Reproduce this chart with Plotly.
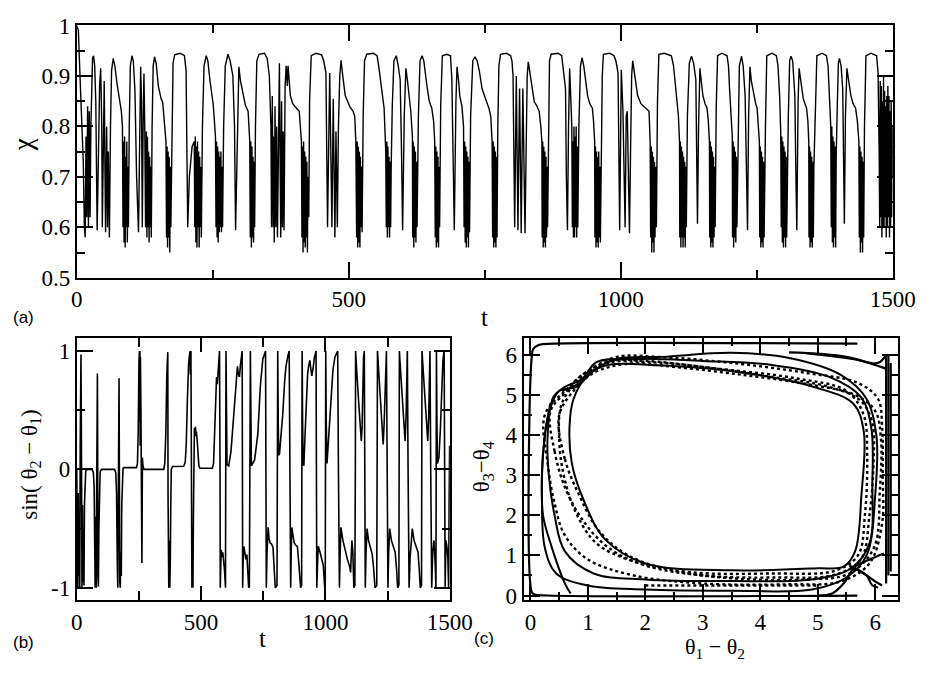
import plotly.graph_objects as go

# ---------------- data ----------------
# panel (a): chi(t)  (t, chi) pairs
chi_pts = [
(0,1.0),(3,0.99),(6,0.9),(9,0.8),(12,0.73),(14,0.6),(15.5,0.58),(17,0.78),(18.5,0.62),(20,0.84),(21.5,0.6),(23,0.83),(24.5,0.62),(26,0.8),(27,0.88),(29,0.935),(31,0.94),(33,0.92),(35,0.85),(37.5,0.594),(40,0.75),(42,0.88),(44,0.915),(46,0.8),(47,0.6),(49,0.85),(50.5,0.89),(52,0.7),(53,0.59),(55,0.8),(56.5,0.6),(58,0.75),(60,0.58),(62,0.8),(64,0.91),(67,0.935),(70,0.92),(74,0.885),(78,0.861),(82,0.83),(84,0.8),
(85,0.6),(86,0.77),(87,0.57),(88,0.78),(89,0.56),(90,0.74),(91,0.6),(92,0.77),(93,0.57),(94,0.72),(95,0.6),(96.5,0.8),(98.5,0.92),(101.5,0.94),(104,0.93),(107,0.87),(110,0.7),(113.5,0.59),(115.5,0.82),(117.5,0.918),(119,0.85),(120.5,0.6),(122,0.8),(123.5,0.905),(125,0.8),(126.5,0.6),
(128,0.79),(129,0.58),(130,0.78),(131,0.6),(132,0.75),(133,0.57),(134,0.74),(135,0.6),(136,0.72),(137,0.58),(138.5,0.8),(140.5,0.92),(143,0.938),(146,0.925),(150,0.88),(155,0.855),(158,0.848),(162,0.8),(164,0.77),
(165,0.58),(166,0.76),(167,0.56),(168,0.75),(169,0.58),(170,0.74),(171,0.55),(172,0.72),(173,0.6),(175,0.82),(177,0.925),(180,0.942),(190,0.945),(198,0.94),(201,0.91),(202.5,0.75),(204,0.6),(207,0.7),(212,0.76),(216,0.77),
(217,0.6),(218,0.78),(219,0.57),(220,0.76),(221,0.56),(222,0.77),(223,0.6),(224,0.75),(225,0.56),(226,0.74),(227,0.6),(228,0.72),(229,0.58),(231,0.8),(234,0.92),(238,0.94),(241,0.93),(245,0.89),(251,0.842),(255,0.78),
(256,0.6),(257,0.77),(258,0.58),(259,0.76),(260,0.57),(261,0.75),(262,0.59),(263,0.74),(264,0.6),(265,0.75),(266,0.59),(267,0.72),(268,0.6),(270,0.8),(273,0.92),(278,0.943),(282,0.93),(287,0.9),(290,0.8),(292,0.594),(295,0.8),(298,0.918),(301,0.89),(305,0.865),(310,0.842),(315,0.83),(318,0.77),
(319,0.58),(320,0.77),(321,0.56),(322,0.76),(323,0.58),(324,0.74),(325,0.57),(326,0.73),(327,0.6),(328.5,0.8),(331,0.93),(335,0.943),(345,0.945),(350,0.935),(354,0.9),(357,0.8),
(358,0.6),(359.5,0.86),(361,0.6),(362,0.78),(363,0.57),(364.5,0.84),(366,0.6),(367.5,0.8),(369,0.58),(371,0.9),(372.5,0.925),(374,0.7),(375,0.58),(376.5,0.85),(378,0.6),(379.5,0.79),(381,0.594),(383,0.88),(385,0.92),(387,0.88),(388.4,0.92),(392.6,0.861),(397,0.845),(401.5,0.839),(405,0.834),(409,0.83),(413,0.77),
(414,0.58),(415,0.76),(416,0.55),(417,0.77),(418,0.57),(419,0.75),(420,0.56),(421,0.74),(422,0.58),(423,0.73),(424,0.55),(425,0.7),(426.5,0.62),(428,0.85),(431,0.94),(440,0.945),(450,0.942),(454,0.93),(458,0.906),(461,0.6),(465,0.906),(469,0.6),(471.5,0.855),(474.5,0.58),(476.5,0.79),(479,0.6),(481,0.8),(483.5,0.9),(485.8,0.931),(489,0.9),(493.5,0.861),(502,0.839),(508,0.83),(511,0.82),(513,0.77),
(514.5,0.58),(515.5,0.77),(516.5,0.56),(517.5,0.76),(518.5,0.57),(519.5,0.75),(520.5,0.56),(521.5,0.74),(522.5,0.6),(523.5,0.72),(524.5,0.59),(526.5,0.82),(529,0.93),(533,0.943),(545,0.945),(552,0.94),(555,0.92),(558,0.893),(562,0.86),(565,0.836),(568,0.75),
(569,0.6),(570,0.77),(571,0.58),(572,0.76),(573,0.6),(574,0.74),(575,0.58),(576,0.73),(577,0.6),(578,0.72),(580,0.84),(583,0.93),(587.4,0.94),(591,0.92),(594.5,0.893),(597,0.75),(599,0.594),(602,0.82),(605,0.915),(608,0.89),(611,0.861),(614,0.83),(617,0.78),
(617.5,0.58),(618.5,0.77),(619.5,0.56),(620.5,0.76),(621.5,0.58),(622.5,0.75),(623.5,0.57),(624.5,0.73),(625.5,0.6),(628,0.82),(631,0.93),(634.8,0.94),(638,0.93),(643,0.886),(648,0.85),(652.6,0.836),(656,0.81),(658,0.77),
(659,0.58),(660,0.76),(661,0.56),(662,0.75),(663,0.57),(664,0.74),(665,0.56),(666,0.72),(667,0.6),(669,0.84),(672,0.94),(680,0.943),(687,0.94),(689.5,0.893),(692,0.75),(694,0.594),(697,0.85),(699,0.918),(702,0.89),(704,0.861),(708,0.84),(711,0.8),
(712,0.6),(713,0.77),(714,0.57),(715,0.76),(716,0.56),(717,0.75),(718,0.58),(719,0.74),(720,0.56),(721,0.73),(722,0.59),(724,0.82),(728,0.93),(732,0.938),(736,0.93),(740,0.91),(745,0.875),(749,0.86),(753,0.85),(757.7,0.836),(761,0.82),(763.5,0.77),
(764.5,0.58),(765.5,0.77),(766.5,0.56),(767.5,0.76),(768.5,0.57),(769.5,0.75),(770.5,0.56),(771.5,0.74),(772.5,0.58),(774,0.8),(776,0.92),(779,0.943),(790,0.945),(797.5,0.94),(800,0.93),(802,0.9),(805,0.6),(808,0.9),(811,0.594),(814,0.875),(817,0.588),(820,0.875),(822,0.7),(824,0.588),(826,0.75),(828,0.9),(830,0.928),(834,0.9),(841,0.849),(846,0.84),(850,0.83),(853,0.8),(855,0.77),
(855.5,0.58),(856.5,0.77),(857.5,0.56),(858.5,0.76),(859.5,0.57),(860.5,0.75),(861.5,0.56),(862.5,0.74),(863.5,0.58),(864.5,0.72),(865.5,0.6),(867,0.82),(869,0.93),(872,0.943),(885,0.945),(891.4,0.94),(895,0.91),(898.5,0.874),(900,0.7),(902,0.594),(904,0.8),(906,0.915),(908,0.86),(910,0.8),(911,0.6),
(912,0.77),(913,0.58),(914,0.8),(915,0.58),(916,0.78),(917,0.6),(918,0.8),(919,0.58),(920,0.76),(921,0.6),(923,0.8),(926,0.92),(928.8,0.936),(932,0.92),(935,0.89),(939,0.861),(943,0.845),(947.8,0.836),(950,0.81),(952,0.77),
(952.5,0.58),(953.5,0.76),(954.5,0.56),(955.5,0.75),(956.5,0.57),(957.5,0.74),(958.5,0.56),(959.5,0.75),(960.5,0.58),(961.5,0.72),(962.5,0.57),(964,0.75),(966,0.9),(968,0.943),(980,0.945),(987.5,0.94),(991,0.93),(995,0.906),(998,0.594),(1001,0.912),(1004,0.83),(1008,0.6),(1010,0.82),(1012,0.83),(1014,0.7),(1016,0.588),(1018,0.75),(1020,0.9),(1022,0.93),(1025,0.91),(1031,0.861),(1037,0.845),(1043,0.839),(1048,0.834),(1052,0.83),(1054,0.77),
(1055,0.58),(1056,0.76),(1057,0.55),(1058,0.75),(1059,0.57),(1060,0.74),(1061,0.55),(1062,0.73),(1063,0.58),(1064,0.72),(1065.5,0.6),(1067.5,0.85),(1070,0.943),(1080,0.945),(1093,0.94),(1097,0.92),(1102,0.855),(1106,0.82),(1108,0.77),
(1108.5,0.58),(1109.5,0.77),(1110.5,0.56),(1111.5,0.76),(1112.5,0.58),(1113.5,0.75),(1114.5,0.56),(1115.5,0.74),(1116.5,0.58),(1117.5,0.73),(1118.5,0.56),(1119.5,0.72),(1120.5,0.6),(1122.5,0.82),(1126,0.925),(1130,0.939),(1134,0.925),(1138,0.893),(1140,0.75),(1141,0.607),(1143,0.8),(1145.5,0.915),(1148,0.89),(1151,0.861),(1155,0.845),(1158.6,0.836),(1161,0.81),(1163,0.77),
(1163.5,0.58),(1164.5,0.77),(1165.5,0.56),(1166.5,0.76),(1167.5,0.57),(1168.5,0.75),(1169.5,0.56),(1170.5,0.74),(1171.5,0.58),(1172.5,0.72),(1173.5,0.6),(1175.5,0.84),(1178,0.94),(1186,0.945),(1195.4,0.94),(1198,0.92),(1200,0.874),(1203,0.8),(1205,0.78),
(1205.5,0.58),(1206.5,0.77),(1207.5,0.56),(1208.5,0.76),(1209.5,0.58),(1210.5,0.75),(1211.5,0.57),(1212.5,0.74),(1213.5,0.6),(1215.5,0.8),(1218,0.92),(1222,0.939),(1225,0.92),(1228.6,0.861),(1231,0.72),(1233,0.594),(1235,0.82),(1237.5,0.918),(1240,0.89),(1244.7,0.861),(1248,0.845),(1250.6,0.836),(1253,0.8),(1254.8,0.77),
(1255.5,0.58),(1256.5,0.76),(1257.5,0.56),(1258.5,0.75),(1259.5,0.57),(1260.5,0.74),(1261.5,0.56),(1262.5,0.73),(1263.5,0.58),(1264.5,0.7),(1266,0.8),(1268.4,0.94),(1278,0.945),(1286,0.94),(1289,0.92),(1292,0.861),(1294,0.79),
(1295,0.6),(1296,0.78),(1297,0.57),(1298,0.77),(1299,0.56),(1300,0.76),(1301,0.58),(1302,0.75),(1303,0.56),(1304,0.74),(1305,0.58),(1306,0.72),(1308,0.82),(1310.5,0.93),(1313,0.939),(1316,0.93),(1320,0.861),(1322,0.7),(1323.6,0.594),(1326,0.85),(1327.8,0.915),(1331,0.89),(1335.5,0.855),(1341.5,0.836),(1344,0.81),(1345.6,0.77),
(1346,0.58),(1347,0.76),(1348,0.56),(1349,0.75),(1350,0.57),(1351,0.74),(1352,0.56),(1353,0.73),(1354,0.58),(1355,0.72),(1357,0.8),(1360.5,0.94),(1370,0.945),(1378,0.94),(1381,0.92),(1384,0.861),(1386,0.8),
(1387,0.6),(1388,0.8),(1389,0.57),(1390,0.78),(1391,0.56),(1392,0.77),(1393,0.58),(1394,0.76),(1395,0.56),(1396,0.74),(1398,0.84),(1400,0.925),(1402,0.935),(1405,0.92),(1408,0.874),(1409.5,0.75),(1411,0.607),(1413,0.82),(1415.7,0.915),(1419,0.89),(1423,0.861),(1427,0.845),(1431.7,0.836),(1435,0.81),(1437.7,0.77),
(1438.5,0.58),(1439.5,0.76),(1440.5,0.55),(1441.5,0.75),(1442.5,0.57),(1443.5,0.74),(1444.5,0.55),(1445.5,0.73),(1446.5,0.58),(1448,0.8),(1450.7,0.94),(1460,0.945),(1470.3,0.94),(1473,0.906),(1475,0.75),
(1476,0.6),(1477,0.89),(1478,0.62),(1479,0.88),(1480,0.58),(1481,0.85),(1482,0.6),(1483,0.9),(1484,0.6),(1485,0.87),(1486,0.62),(1487,0.84),(1488,0.58),(1489,0.86),(1490,0.6),(1491,0.88),(1492,0.62),(1493,0.86),(1494,0.58),(1495,0.83),(1496,0.6),(1497,0.85),(1498,0.62),(1499,0.8),(1500,0.7)
]
chi_tickvals = [0.5, 0.6, 0.7, 0.8, 0.9, 1.0]
chi_ticktext = ["0.5", "0.6", "0.7", "0.8", "0.9", "1"]

# panel (b): sin(theta2 - theta1)(t)
sin_pts = [
(0,0.0),(2,-0.3),(4,-1.0),(6,-0.2),(8,-0.9),(10,-0.4),(12,-1.0),(14,0.2),(17,0.97),(19,0.1),(21,-1.0),(23,-0.3),(25,-0.95),(27,-0.5),(29,-0.98),(31,-0.3),(33,-0.05),(36,-0.02),(40,0.0),(62,0.0),(67,-0.03),(70,-0.15),
(72,-0.6),(74,-1.0),(76,-0.4),(78,-1.0),(80,-0.2),(82,0.4),(83,0.81),(84,0.3),(85,-0.9),(87,-0.99),(89,-0.5),(91,-0.1),(94,-0.02),(100,0.0),
(152,0.0),(157,-0.03),(160,-0.2),(163,-0.8),(165,-1.0),(167,-0.3),(169,0.5),(170,0.77),(171,0.2),(173,-0.95),(175,-1.0),(177,-0.7),(179,-0.9),(181,-0.3),(183,-0.05),(186,0.01),(190,0.015),
(240,0.015),(244,0.05),(247,0.3),(250,0.9),(252,1.0),(253,0.4),(254,1.0),(255,0.2),(256,0.95),(258,0.5),(260,-0.2),(262,-0.79),(264,0.1),(266,0.03),(270,0.0),
(350,0.0),(354,0.05),(358,0.3),(362,0.8),(366,0.99),(367,-0.2),(368,-1.0),(369,-0.5),(370,-1.0),(372,-0.6),(374,-1.0),(376,-0.8),(378,-0.3),(380,0.0),(385,0.025),
(430,0.027),(436,0.06),(440,0.2),(445,0.6),(450,0.9),(455,1.0),(457,0.8),(459,1.0),(461,0.0),(463,-1.0),(465,-0.5),(467,-1.0),(469,-0.4),(471,0.25),(473,0.35),(475,0.3),(477,0.36),(479,0.28),(481,0.32),(484,0.25),(487,0.12),(491,0.03),(495,0.01),
(545,0.01),(550,0.05),(554,0.25),(558,0.55),(562,0.78),(565,0.72),(568,0.8),(571,0.9),(574,1.0),(576,0.0),(577,-1.0),(579,-0.8),(581,-0.68),(584,-0.74),(587,-0.7),(590,-0.76),(594,-0.85),(598,-1.0),(599,0.0),(600,1.0),(602,0.5),(604,0.04),
(611,0.03),(620,0.15),(630,0.45),(640,0.75),(646,0.87),(650,0.8),(654,0.78),(658,0.88),(662,0.97),(665,1.0),(666,0.0),(667,-1.0),(669,-0.75),(672,-0.65),(676,-0.7),(680,-0.76),(684,-0.72),(688,-0.85),(691,-1.0),(694,-0.99),(697,0.0),(698,1.0),(700,0.5),(702,0.03),
(715,0.08),(728,0.3),(738,0.7),(748,0.93),(759,1.0),(761,0.0),(762,-1.0),(765,-0.7),(769.5,-0.49),(773,-0.58),(777,-0.62),(783,-0.63),(789,-0.66),(794,-0.85),(798,-1.0),(805,-0.98),(807,0.0),(808,1.0),(810,0.4),(812,0.12),
(815,0.13),(828,0.46),(836,0.75),(841,0.87),(848,0.95),(854,1.0),(857,0.0),(860,-1.0),(862,-0.7),(864.5,-0.49),(870,-0.58),(874,-0.62),(880,-0.64),(887,-0.65),(893,-0.8),(900,-1.0),(904,-0.98),(905,0.0),(906,1.0),(908,0.4),(910,0.05),
(913,0.03),(918,0.3),(923,0.6),(928,0.8),(932,0.87),(937,0.92),(941,0.85),(945,0.79),(950,0.85),(955,0.94),(962,1.0),(963,0.0),(965,-1.0),(968,-0.8),(971,-0.65),(978,-0.7),(985,-0.76),(991,-0.81),(997,-1.0),(999,-0.98),(1000,0.0),(1001,1.0),(1003,0.4),(1006,0.05),
(1017,0.46),(1024,0.7),(1030,0.84),(1038,0.95),(1049,1.0),(1052,0.0),(1056,-1.0),(1059,-0.7),(1062,-0.49),(1070,-0.6),(1080,-0.7),(1088,-0.76),(1097,-0.82),(1101,-0.87),(1106,-0.6),(1110,-0.7),(1114,-1.0),(1118,-0.98),(1120,0.0),(1121,1.0),
(1125,0.85),(1130,0.72),(1134,0.55),(1138,0.42),(1141,0.3),(1144,0.24),(1147,0.35),(1150,0.7),(1153,0.95),(1156,1.0),(1158,0.0),(1160,-1.0),(1163,-0.7),(1167,-0.5),(1173,-0.6),(1180,-0.65),(1188,-0.72),(1194,-0.85),(1199,-1.0),(1206,-0.98),(1208,0.0),(1209,1.0),
(1213,0.86),(1218,0.7),(1223,0.5),(1228,0.3),(1232,0.21),(1236,0.4),(1240,0.75),(1245,1.0),(1248,0.0),(1251,-1.0),(1254,-0.7),(1258,-0.5),(1265,-0.6),(1272,-0.65),(1280,-0.7),(1286,-0.85),(1290,-1.0),(1295,-0.98),(1296,0.0),(1297,1.0),
(1301,0.86),(1306,0.7),(1311,0.5),(1316,0.3),(1320,0.24),(1324,0.45),(1327,0.8),(1329,1.0),(1332,0.0),(1336,-1.0),(1340,-0.75),(1349,-0.5),(1356,-0.6),(1364,-0.65),(1372,-0.7),(1377,-0.85),(1381,-1.0),(1386,-0.98),(1387,0.0),(1388,1.0),
(1392,0.86),(1397,0.7),(1402,0.5),(1407,0.3),(1411,0.24),(1415,0.45),(1418,0.8),(1420,1.0),(1423,0.0),(1427,-1.0),(1431,-0.7),(1436,-0.6),(1441,-0.8),(1444,-1.0),(1445,0.0),(1446,1.0),(1448,0.4),(1450,0.05),
(1456,0.1),(1462,0.35),(1467,0.7),(1472,0.92),(1477,1.0),(1479,0.0),(1481,-1.0),(1484,-0.6),(1488,-0.65),(1492,-0.75),(1495,-1.0),(1497,-0.3),(1499,0.2),(1500,0.18)
]

# panel (c): phase portrait (theta1-theta2, theta3-theta4)
c_edges = [(5.69,6.28),(0.4,6.28),(0.15,6.25),(0.05,6.15),(0.02,5.9),(0.02,0.1),(0.06,0.03),(0.3,0.0),(5.69,0.0)]
c_right1 = [(6.19,6.0),(6.19,0.3)]
c_right2 = [(6.23,6.02),(6.23,0.5)]
c_right3 = [(6.27,5.8),(6.27,0.6)]
c_topright1 = [(4.5,6.06),(5.5,5.95),(6.1,5.7),(6.2,5.65)]
c_topright2 = [(4.8,6.04),(5.6,5.9),(6.05,5.8),(6.19,6.0)]
c_botright1 = [(5.0,0.0),(5.25,0.05),(5.45,0.3),(5.65,0.72),(5.9,0.9),(6.15,1.05)]
c_botright2 = [(5.55,0.75),(5.8,0.55),(6.0,0.35),(6.12,0.25)]
c_botright3 = [(5.6,0.72),(5.85,0.5),(5.95,0.25),(6.05,0.2)]
c_solid1 = [(0.75,4.9),(0.68,4.2),(0.72,3.3),(0.92,2.4),(1.3,1.4),(2.0,0.8),(3.5,0.63),(5.0,0.68),(5.45,0.72),(5.65,1.1),(5.76,2.5),(5.8,4.1),(5.62,4.78),(4.98,5.18),(3.6,5.58),(2.2,5.74),(1.35,5.75),(1.0,5.5),(0.75,4.9)]
c_solid2 = [(0.5,5.1),(0.32,4.55),(0.22,3.5),(0.2,2.5),(0.25,1.2),(0.45,0.55),(1.0,0.25),(2.0,0.15),(3.5,0.12),(4.9,0.15),(5.5,0.45),(5.85,1.0),(6.0,2.5),(6.02,4.0),(5.85,4.9),(5.4,5.5),(4.5,5.92),(3.5,6.05),(2.3,5.95),(1.5,5.9),(1.1,5.6),(0.8,5.2),(0.5,5.1)]
c_solid3 = [(0.4,4.95),(0.3,4.0),(0.32,3.0),(0.42,2.0),(0.6,1.1),(1.1,0.55),(2.0,0.4),(3.5,0.36),(5.0,0.42),(5.6,0.7),(5.9,1.3),(5.95,2.8),(5.93,4.2),(5.75,4.95),(5.2,5.45),(4.2,5.75),(3.0,5.85),(1.8,5.9),(1.15,5.82),(0.9,5.4),(0.6,5.2),(0.4,4.95)]
c_solid4 = [(0.35,4.8),(0.25,4.0),(0.2,3.0),(0.22,2.0),(0.35,1.3),(0.6,0.3),(0.7,0.05)]
c_solid5 = [(0.55,5.1),(0.85,5.3),(1.0,5.55),(1.15,5.65),(1.4,5.85),(2.0,5.9)]
c_dot1 = [(0.35,4.6),(0.42,3.6),(0.6,2.7),(0.9,1.9),(1.35,1.2),(2.0,0.75),(3.0,0.5),(4.3,0.45),(5.3,0.52),(5.75,0.9),(5.9,2.0),(5.97,3.3),(5.95,4.3),(5.75,4.85),(5.2,5.2),(4.2,5.45),(3.0,5.7),(2.0,5.85),(1.4,5.85),(0.9,5.5),(0.6,5.05),(0.35,4.6)]
c_dot2 = [(0.5,4.5),(0.6,3.4),(0.85,2.5),(1.2,1.6),(1.7,1.0),(2.5,0.62),(3.6,0.42),(4.8,0.4),(5.55,0.55),(5.98,1.2),(6.08,2.6),(6.1,3.9),(6.0,4.6),(5.65,5.0),(4.9,5.25),(3.7,5.5),(2.5,5.7),(1.7,5.78),(1.1,5.55),(0.75,5.1),(0.5,4.5)]
c_dot3 = [(0.55,4.8),(0.5,3.9),(0.58,3.0),(0.78,2.1),(1.15,1.3),(1.8,0.85),(2.8,0.58),(4.2,0.55),(5.3,0.62),(5.7,1.0),(5.82,2.0),(5.86,3.5),(5.8,4.5),(5.5,5.1),(4.6,5.42),(3.3,5.65),(2.1,5.82),(1.35,5.8),(0.9,5.45),(0.55,4.8)]
c_dot4 = [(0.25,4.5),(0.3,3.3),(0.42,2.3),(0.6,1.5),(1.0,0.9),(1.8,0.5),(3.0,0.3),(4.5,0.28),(5.4,0.35),(5.9,0.8),(6.12,1.8),(6.13,3.0),(6.12,4.2),(6.05,4.9),(5.7,5.3),(4.8,5.55),(3.5,5.8),(2.2,5.95),(1.5,5.95),(1.0,5.6),(0.6,5.1),(0.25,4.5)]
c_dot5 = [(2.0,0.25),(5.0,0.25)]

# ---------------- figure ----------------
W, H = 940, 674
SERIF = "Liberation Serif"
SANS = "Liberation Sans"

def px(x): return x / W
def py(y): return 1 - y / H

fig = go.Figure()

def add(pts, xa, ya, width=1.3, dash=None, shape="linear"):
    fig.add_trace(go.Scatter(
        x=[p[0] for p in pts], y=[p[1] for p in pts], mode="lines",
        line=dict(color="black", width=width, dash=dash, shape=shape,
                  smoothing=1.0 if shape == "spline" else None),
        xaxis=xa, yaxis=ya, showlegend=False, hoverinfo="skip"))

add(chi_pts, "x", "y", 1.4)
add(sin_pts, "x2", "y2", 1.6)
for seg in [c_edges, c_right1, c_right2, c_right3, c_topright1, c_topright2,
            c_botright1, c_botright2, c_botright3]:
    add(seg, "x3", "y3", 2.2, None, "spline")
for seg in [c_solid1, c_solid2, c_solid3, c_solid4, c_solid5]:
    add(seg, "x3", "y3", 2.0, None, "spline")
for seg in [c_dot1, c_dot2, c_dot3, c_dot4, c_dot5]:
    add(seg, "x3", "y3", 2.4, "dot", "spline")

tickfont = dict(family=SERIF, size=23, color="black")

def axis(domain, rng, dtick, mdtick, anchor, majlen=16, minlen=8):
    return dict(domain=domain, range=rng, anchor=anchor,
                showline=True, linecolor="black", linewidth=2, mirror="allticks",
                ticks="inside", ticklen=majlen, tickwidth=1.5, tickcolor="black",
                dtick=dtick, tick0=0, tickfont=tickfont, showgrid=False,
                zeroline=False,
                minor=dict(ticks="inside", ticklen=minlen, tickwidth=1.5,
                           tickcolor="black", dtick=mdtick, tick0=0, showgrid=False))

ya = axis([py(276), py(14)], [0.5, 1.0], 0.1, 0.05, "x")
ya.update(tickmode="array", tickvals=chi_tickvals, ticktext=chi_ticktext)
yb = axis([py(611), py(339)], [-1.106, 1.106], 1, 0.5, "x2")
yb.update(tickmode="array", tickvals=[-1, 0, 1], ticktext=["-1", "0", "1"])

fig.update_layout(
    width=W, height=H, margin=dict(l=0, r=0, t=0, b=0),
    paper_bgcolor="white", plot_bgcolor="white",
    font=dict(family=SERIF, size=22, color="black"),
    xaxis=axis([px(73), px(915)], [0, 1500], 500, 250, "y"),
    yaxis=ya,
    xaxis2=axis([px(73), px(458)], [0, 1500], 500, 250, "y2", 14, 9),
    yaxis2=yb,
    xaxis3=axis([px(534), px(920)], [-0.12, 6.39], 1, 0.5, "y3"),
    yaxis3=axis([py(611), py(339)], [-0.12, 6.41], 1, 0.5, "x3"),
)

ann = [
    ("\u03c7", 17, 138, SERIF, 27, -90),
    ("t", 494, 317, SERIF, 25, 0),
    ("(a)", 18, 317, SANS, 17, 0),
    ("(b)", 18, 655, SANS, 17, 0),
    ("t", 265, 651, SERIF, 25, 0),
    ("(c)", 493, 651, SANS, 17, 0),
    ("sin( \u03b8<sub>2</sub> \u2212 \u03b8<sub>1</sub>)", 25, 470, SERIF, 23, -90),
    ("\u03b8<sub>3</sub>\u2212\u03b8<sub>4</sub>", 493, 472, SERIF, 23, -90),
    ("\u03b8<sub>1</sub> \u2212 \u03b8<sub>2</sub>", 732, 660, SERIF, 22, 0),
]
for text, x, y, fam, size, ang in ann:
    fig.add_annotation(text=text, x=px(x), y=py(y), xref="paper", yref="paper",
                       xanchor="center", yanchor="middle", showarrow=False,
                       textangle=ang, font=dict(family=fam, size=size, color="black"))

fig.write_html("out.html")
